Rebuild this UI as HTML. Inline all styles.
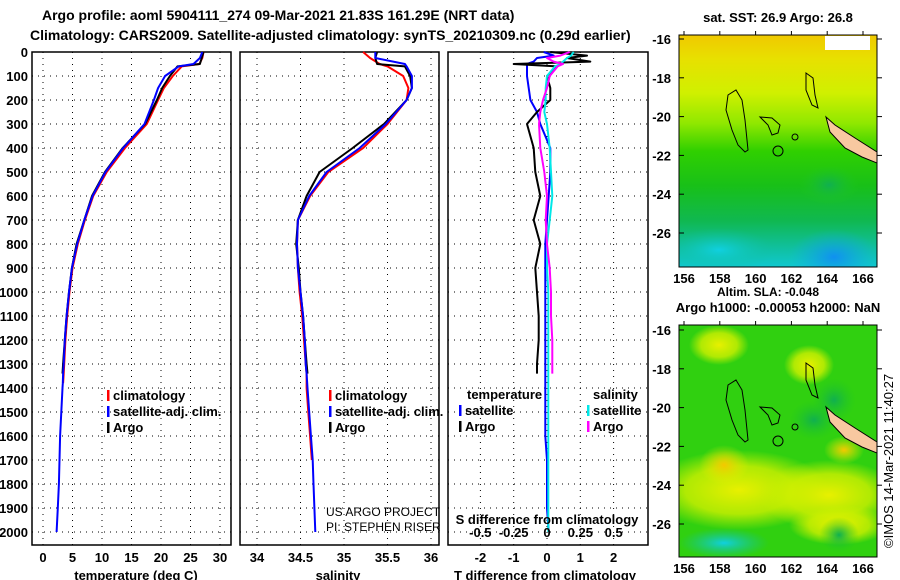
<!DOCTYPE html>
<html><head><meta charset="utf-8"><style>
html,body{margin:0;padding:0;background:#fff;width:900px;height:580px;overflow:hidden}
svg{display:block;font-family:"Liberation Sans",sans-serif;font-weight:bold}
</style></head><body>
<svg id="chart" width="900" height="580" viewBox="0 0 900 580">
<defs>
<linearGradient id="sstg" x1="0" y1="0" x2="0" y2="1">
<stop offset="0" stop-color="#f0c800"/><stop offset="0.1" stop-color="#e8e000"/><stop offset="0.25" stop-color="#d0f000"/>
<stop offset="0.38" stop-color="#90e800"/><stop offset="0.5" stop-color="#30d000"/><stop offset="0.65" stop-color="#18c018"/>
<stop offset="0.8" stop-color="#10b850"/><stop offset="0.92" stop-color="#10c0a0"/><stop offset="1" stop-color="#10c8d0"/></linearGradient>
<radialGradient id="blueblob"><stop offset="0" stop-color="#1090f0"/><stop offset="1" stop-color="#10b0e0" stop-opacity="0"/></radialGradient>
<radialGradient id="yblob"><stop offset="0" stop-color="#e8f000"/><stop offset="0.6" stop-color="#d0f000" stop-opacity="0.8"/><stop offset="1" stop-color="#c8f000" stop-opacity="0"/></radialGradient>
<radialGradient id="oblob"><stop offset="0" stop-color="#f4c800"/><stop offset="1" stop-color="#e8f000" stop-opacity="0"/></radialGradient>
<radialGradient id="gblob"><stop offset="0" stop-color="#10b050"/><stop offset="1" stop-color="#20c820" stop-opacity="0"/></radialGradient>
<radialGradient id="cblob"><stop offset="0" stop-color="#10d0e0"/><stop offset="1" stop-color="#10c0a0" stop-opacity="0"/></radialGradient>
<clipPath id="clip1"><rect x="679" y="35" width="198" height="232"/></clipPath>
<clipPath id="clip2"><rect x="679" y="325" width="198" height="232"/></clipPath>
</defs>
<text x="42" y="20" font-size="14">Argo profile: aoml 5904111_274 09-Mar-2021 21.83S 161.29E (NRT data)</text>
<text x="30" y="40" font-size="14">Climatology: CARS2009. Satellite-adjusted climatology: synTS_20210309.nc (0.29d earlier)</text>
<g id="panels"></g>
<g id="maps"></g>
</svg>
<script>
// ---- data ----
const depthT = [0,25,50,60,100,150,200,300,400,500,600,700,800,900,1000,1100,1200,1300,1340,1380,1400,1500,1600,1700,1800,1900,2000];
const tempClim = [27.2,27.0,26.5,23.5,22.0,20.5,19.5,17.6,13.9,10.8,8.5,7.1,5.9,5.0,4.5,4.1,3.8,3.6,3.5,3.4,null,null,null,null,null,null,null];
const tempSat  = [27.0,26.6,25.5,23.0,20.7,19.5,18.8,17.2,13.6,10.6,8.4,7.0,5.8,4.9,4.4,4.0,3.7,3.5,3.4,3.35,3.3,3.1,2.9,2.8,2.7,2.5,2.3];
const tempArgo = [27.2,26.9,26.6,22.8,21.5,20.2,19.3,17.3,13.5,10.5,8.3,7.0,5.7,4.9,4.4,4.0,3.7,3.4,3.3,null,null,null,null,null,null,null,null];
const depthS = [0,25,50,60,100,150,200,300,400,500,600,700,800,900,1000,1100,1200,1300,1340,1400,1500,1600,1700,1800,1900,2000];
const salClim = [35.22,35.3,35.41,35.5,35.68,35.74,35.72,35.5,35.22,34.82,34.61,34.47,34.46,34.47,34.49,34.52,34.54,34.56,34.57,34.57,34.59,34.61,34.63,null,null,null];
const salSat  = [35.36,35.36,35.7,35.72,35.78,35.78,35.72,35.48,35.18,34.8,34.6,34.47,34.46,34.47,34.5,34.53,34.55,34.56,34.57,34.58,34.6,34.62,34.64,34.65,34.66,34.67];
const salArgo = [35.38,35.36,35.38,35.7,35.76,35.78,35.72,35.46,35.1,34.72,34.57,34.47,34.45,34.48,34.5,34.53,34.55,34.57,34.58,null,null,null,null,null,null,null];
const depthD = [0,15,25,40,50,60,100,150,200,250,300,400,500,600,700,800,900,1000,1100,1200,1300,1340,1400,1500,1600,1700,1800,1900,2000];
const dTsat  = [-0.1,0.2,-0.3,-0.4,-0.6,-0.6,-0.6,-0.55,-0.5,-0.3,-0.2,0.1,0.1,0.05,0.0,-0.05,-0.05,-0.05,-0.05,-0.05,-0.05,-0.05,-0.05,-0.05,-0.05,0.0,0.0,0.0,0.05];
const dTargo = [0.1,1.2,0.6,1.3,-1.0,0.3,0.0,0.1,0.1,-0.3,-0.6,-0.4,-0.35,-0.2,-0.4,-0.2,-0.35,-0.3,-0.25,-0.25,-0.3,-0.3,null,null,null,null,null,null,null];
const dSsat  = [0.2,0.18,0.15,0.12,0.1,0.06,0.0,-0.01,-0.01,-0.02,0.0,0.02,0.03,0.04,0.02,0.0,0.0,0.01,0.01,0.01,0.01,0.01,0.01,0.01,0.01,0.01,0.01,0.01,0.01];
const dSargo = [0.17,0.1,0.0,0.05,0.12,0.08,0.02,0.0,-0.03,-0.05,-0.06,-0.05,-0.02,0.0,-0.01,0.0,0.02,0.03,0.03,0.04,0.04,0.04,null,null,null,null,null,null,null];
const depthTicks = [0,100,200,300,400,500,600,700,800,900,1000,1100,1200,1300,1400,1500,1600,1700,1800,1900,2000];
const tempTicks = [0,5,10,15,20,25,30];
const salTicks = [34,34.5,35,35.5,36];
const dTTicks = [-2,-1,0,1,2];
const dSTicks = [-0.5,-0.25,0,0.25,0.5];
const latTicks = [-16,-18,-20,-22,-24,-26];
const lonTicks = [156,158,160,162,164,166];

// ---- axes ----
const NS='http://www.w3.org/2000/svg';
const yD = d => 52 + 0.24*d;
const xT = v => 43 + 5.9*v;
const xS = s => 257 + 87*(s-34);
const xDT = v => 547 + 33.3*v;
const xDS = v => 547 + 133.3*v;
const plotTop=52, plotBot=545;
const panelsG=document.getElementById('panels');
function mk(tag, attrs, parent){const e=document.createElementNS(NS,tag);for(const k in attrs)e.setAttribute(k,attrs[k]);(parent||panelsG).appendChild(e);return e;}
function txt(x,y,s,size,anchor,parent){const e=mk('text',{x:x,y:y,'font-size':size,'text-anchor':anchor||'start'},parent);e.textContent=s;return e;}

function panel(pname,x0,x1,xticks,xf,labels){
  const g=mk('g',{});
  
  
  for(const d of depthTicks){ mk('line',{x1:x0,x2:x1,y1:yD(d),y2:yD(d),stroke:'#000','stroke-width':1,'stroke-dasharray':'1,5'},g);}
  xticks.forEach(v=>{ mk('line',{x1:xf(v),x2:xf(v),y1:plotTop,y2:plotBot,stroke:'#000','stroke-width':1,'stroke-dasharray':'1,5'},g);});
  const r=mk('rect',{x:x0,y:plotTop,width:x1-x0,height:plotBot-plotTop,fill:'none',stroke:'#000','stroke-width':1.5},g);
  
  
  if(labels){ xticks.forEach(v=>{ const lb=txt(xf(v),562,String(v),13,'middle',g);  });}
  return g;
}
function line(g,depths,vals,xf,color,w,lname){
  let d='',pen=false;
  depths.forEach((dp,i)=>{const v=vals[i]; if(v===null||v===undefined){pen=false;return;} d+=(pen?'L':'M')+xf(v).toFixed(1)+','+yD(dp).toFixed(1); pen=true;});
  const p=mk('path',{d:d,fill:'none',stroke:color,'stroke-width':w,'stroke-linejoin':'round'},g);
  
  
}
depthTicks.forEach(d=>{const lb=txt(28,yD(d)+5,String(d),13,'end');  });

// panel 1
const g1=panel('temperature-panel',32,231,tempTicks,xT,true);
line(g1,depthT,tempClim,xT,'#ff0000',2,'temperature-climatology-line');
line(g1,depthT,tempArgo,xT,'#000000',2,'temperature-argo-line');
line(g1,depthT,tempSat,xT,'#0000ff',2,'temperature-satellite-line');
let tl=txt(136,580,'temperature (deg C)',13,'middle',g1);  
function legend3(g,x,y){
  const L=[['#ff0000','climatology'],['#0000ff','satellite-adj. clim.'],['#000000','Argo']];
  L.forEach((e,i)=>{ const r=mk('rect',{x:x,y:y+i*16-10,width:2.5,height:11,fill:e[0]},g);
     
    const tt=txt(x+6,y+i*16,e[1],13,'start',g);  });
}
legend3(g1,107,400);

// panel 2
const g2=panel('salinity-panel',240,439,salTicks,xS,true);
line(g2,depthS,salClim,xS,'#ff0000',2,'salinity-climatology-line');
line(g2,depthS,salArgo,xS,'#000000',2,'salinity-argo-line');
line(g2,depthS,salSat,xS,'#0000ff',2,'salinity-satellite-line');
tl=txt(338,580,'salinity',13,'middle',g2);  
legend3(g2,329,400);
tl=mk('text',{x:326,y:516,'font-size':12,'font-weight':'normal'},g2); tl.textContent='US ARGO PROJECT';  
tl=mk('text',{x:326,y:531,'font-size':12,'font-weight':'normal'},g2); tl.textContent='PI: STEPHEN RISER';  

// panel 3
const g3=panel('difference-panel',448,648,dTTicks,xDT,true);
line(g3,depthD,dTsat,xDT,'#0000ff',2,'temperature-satellite-diff-line');
line(g3,depthD,dTargo,xDT,'#000000',2,'temperature-argo-diff-line');
line(g3,depthD,dSsat,xDS,'#00e8e8',2,'salinity-satellite-diff-line');
line(g3,depthD,dSargo,xDS,'#ff00ff',2,'salinity-argo-diff-line');
dSTicks.forEach(v=>{const tt=txt(xDS(v),537,String(v),13,'middle',g3);  });
tl=txt(547,524,'S difference from climatology',13,'middle',g3);  
tl=txt(545,580,'T difference from climatology',13,'middle',g3);  
tl=txt(467,399,'temperature',13,'start',g3);  
tl=txt(593,399,'salinity',13,'start',g3);  
[['#0000ff','satellite',459,415],['#000000','Argo',459,431],['#00e8e8','satellite',587,415],['#ff00ff','Argo',587,431]].forEach(e=>{
  const r=mk('rect',{x:e[2],y:e[3]-10,width:2.5,height:11,fill:e[0]},g3);  
  const tt=txt(e[2]+6,e[3],e[1],13,'start',g3);  
});

// ---- maps ----
const mapsG=document.getElementById('maps');
const xLon=l=>684+17.9*(l-156);
function drawMap(mname,y0,y1,lat16,bgFill,blobs,title,clip){
  const g=mk('g',{},mapsG);
  
  
  const yLat=l=>lat16+19.4*(-16-l);
  const inner=mk('g',{'clip-path':'url(#'+clip+')'},g);
  mk('rect',{x:679,y:y0,width:198,height:y1-y0,fill:bgFill},inner);
  blobs.forEach(b=>mk('ellipse',{cx:b[0]+679,cy:b[1]+y0,rx:b[2],ry:b[3],fill:'url(#'+b[4]+')'},inner));
  const oy=y0-35;
  mk('path',{d:`M728,${95+oy} L736,${90+oy} L742,${100+oy} L745,${120+oy} L748,${150+oy} L745,${152+oy} L738,${145+oy} L732,${130+oy} L726,${110+oy} Z`,fill:'none',stroke:'#000','stroke-width':1},inner);
  mk('path',{d:`M760,${117+oy} L772,${118+oy} L780,${125+oy} L778,${133+oy} L772,${135+oy} L768,${125+oy} Z`,fill:'none',stroke:'#000','stroke-width':1},inner);
  mk('path',{d:`M806,${73+oy} L813,${78+oy} L815,${95+oy} L818,${108+oy} L812,${105+oy} L806,${90+oy} Z`,fill:'none',stroke:'#000','stroke-width':1},inner);
  mk('circle',{cx:778,cy:151+oy,r:5,fill:'none',stroke:'#000','stroke-width':1},inner);
  mk('circle',{cx:795,cy:137+oy,r:3,fill:'none',stroke:'#000','stroke-width':1},inner);
  mk('path',{d:`M826,${117+oy} L835,${125+oy} L855,${138+oy} L877,${152+oy} L877,${163+oy} L862,${157+oy} L845,${148+oy} L830,${132+oy} Z`,fill:'#f8c8a0',stroke:'#000','stroke-width':1},inner);
  mk('rect',{x:679,y:y0,width:198,height:y1-y0,fill:'none',stroke:'#000','stroke-width':1},g);
  latTicks.forEach(l=>{mk('line',{x1:679,x2:684,y1:yLat(l),y2:yLat(l),stroke:'#000'},g);mk('line',{x1:877,x2:882,y1:yLat(l),y2:yLat(l),stroke:'#000'},g);
    const tt=txt(671,yLat(l)+5,String(l),13,'end',g);  });
  lonTicks.forEach(l=>{mk('line',{x1:xLon(l),x2:xLon(l),y1:y0-4,y2:y0,stroke:'#000'},g);
    const tt=txt(xLon(l),y1+16,String(l),13,'middle',g);  });
  const tt=txt(778,y0-13,title,13,'middle',g);  
}
drawMap('sst-map',35,267,39,'url(#sstg)',[[155,222,45,28,'blueblob'],[40,215,55,22,'cblob'],[150,150,30,20,'gblob']],'sat. SST: 26.9 Argo: 26.8','clip1');
const wb=mk('rect',{x:825,y:36,width:45,height:14,fill:'#fff'},mapsG);  
drawMap('sla-map',325,557,330,'#30d010',[[60,165,90,40,'yblob'],[150,170,70,35,'yblob'],[40,20,30,20,'yblob'],[130,40,25,20,'yblob'],[160,200,50,20,'yblob'],[45,140,25,20,'oblob'],[165,125,20,14,'oblob'],[45,218,45,15,'cblob'],[155,75,22,22,'gblob'],[135,95,25,20,'gblob'],[160,210,20,18,'gblob']],'Argo h1000: -0.00053 h2000: NaN','clip2');
tl=txt(717,296,'Altim. SLA: -0.048',12,'start',mapsG);  
tl=mk('text',{x:0,y:0,'font-size':13,'font-weight':'normal',transform:'translate(893,548) rotate(-90)'},mapsG); tl.textContent='©IMOS 14-Mar-2021 11:40:27';  
</script>
</body></html>
